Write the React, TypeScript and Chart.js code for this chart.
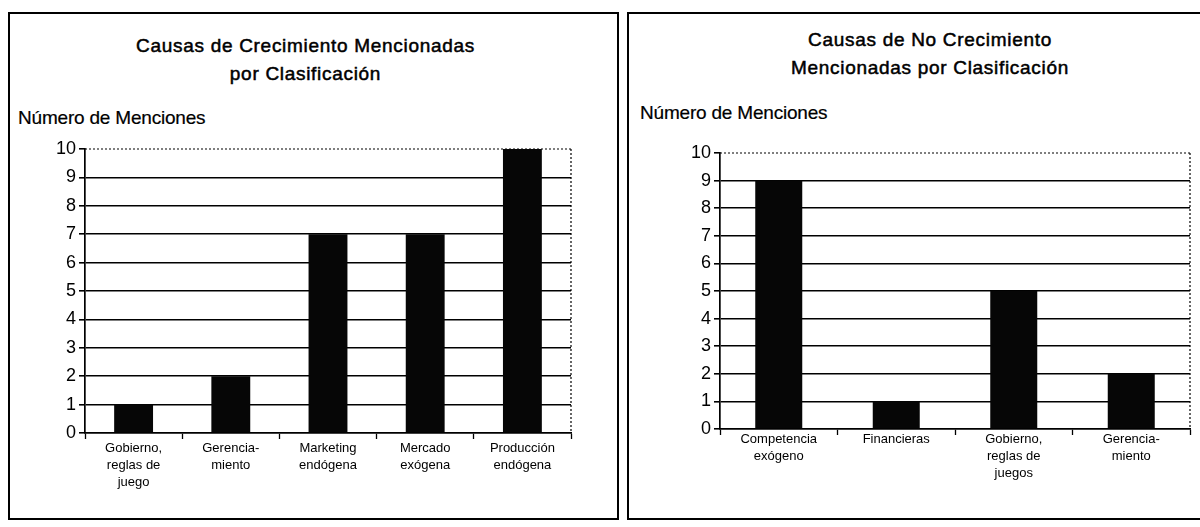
import React, { useEffect, useRef } from "react";
import { Chart, registerables } from "chart.js";

Chart.register(...registerables);

const growthTitle = ["Causas de Crecimiento Mencionadas", "por Clasificación"];
const growthCategories = [
  ["Gobierno,", "reglas de", "juego"],
  ["Gerencia-", "miento"],
  ["Marketing", "endógena"],
  ["Mercado", "exógena"],
  ["Producción", "endógena"],
];
const growthValues = [1, 2, 7, 7, 10];

const noGrowthTitle = ["Causas de No Crecimiento", "Mencionadas por Clasificación"];
const noGrowthCategories = [
  ["Competencia", "exógeno"],
  ["Financieras"],
  ["Gobierno,", "reglas de", "juegos"],
  ["Gerencia-", "miento"],
];
const noGrowthValues = [9, 1, 5, 2];

const yAxisLabel = "Número de Menciones";
const yTickValues = [0, 1, 2, 3, 4, 5, 6, 7, 8, 9, 10];

const FONT = "'Liberation Sans', Arial, Helvetica, sans-serif";

type Area = { left: number; right: number; top: number; bottom: number };

function BarChart(props: {
  labels: string[][];
  values: number[];
  width: number;
  height: number;
  area: Area;
  labelGap: number;
}) {
  const ref = useRef<HTMLCanvasElement>(null);
  useEffect(() => {
    const canvas = ref.current!;
    const { labels, values, width, height, area, labelGap } = props;
    const yMax = yTickValues[yTickValues.length - 1];
    const yMin = yTickValues[0];
    const frame = {
      id: "dottedFrame",
      beforeDatasetsDraw(chart: any) {
        const { ctx, chartArea } = chart;
        const ys = chart.scales.y;
        const top = ys.getPixelForValue(yMax);
        const bottom = ys.getPixelForValue(yMin);
        ctx.save();
        ctx.strokeStyle = "#000";
        ctx.lineWidth = 1.2;
        ctx.setLineDash([2, 2]);
        ctx.beginPath();
        ctx.moveTo(chartArea.left, top);
        ctx.lineTo(chartArea.right, top);
        ctx.moveTo(chartArea.right, top);
        ctx.lineTo(chartArea.right, bottom);
        ctx.stroke();
        ctx.restore();
      },
    };
    const chart = new Chart(canvas, {
      type: "bar",
      data: {
        labels,
        datasets: [
          {
            data: values,
            backgroundColor: "#060606",
            borderWidth: 0,
            categoryPercentage: 1,
            barPercentage: 0.4,
          },
        ],
      },
      options: {
        animation: false,
        responsive: false,
        maintainAspectRatio: false,
        devicePixelRatio: 1,
        layout: {
          padding: { top: area.top, right: width - area.right, bottom: 0, left: 0 },
        },
        plugins: {
          legend: { display: false },
          tooltip: { enabled: false },
          title: { display: false },
        },
        scales: {
          x: {
            grid: {
              offset: true,
              drawOnChartArea: false,
              drawTicks: true,
              tickLength: 6,
              color: "#000",
              tickColor: "#000",
              tickWidth: 1.3,
            },
            border: { color: "#000", width: 1.7 },
            ticks: {
              color: "#000",
              font: { family: FONT, size: 13, lineHeight: 1.3 },
              padding: labelGap,
              maxRotation: 0,
              autoSkip: false,
            },
            afterFit: (s: any) => {
              s.height = height - area.bottom;
            },
          },
          y: {
            min: yMin,
            max: yMax,
            afterBuildTicks: (s: any) => {
              s.ticks = yTickValues.map((v) => ({ value: v }));
            },
            ticks: {
              color: "#000",
              font: { family: FONT, size: 18 },
              padding: 3,
            },
            grid: {
              color: (c: any) =>
                c.tick && (c.tick.value === yMax || c.tick.value === yMin)
                  ? "rgba(0,0,0,0)"
                  : "#000",
              tickColor: "#000",
              lineWidth: 1.6,
              tickLength: 6,
            },
            border: { color: "#000", width: 1.7 },
            afterFit: (s: any) => {
              s.width = area.left;
            },
          },
        },
      },
      plugins: [frame],
    } as any);
    return () => chart.destroy();
  }, []);
  return (
    <canvas
      ref={ref}
      width={props.width}
      height={props.height}
      style={{ width: props.width, height: props.height, display: "block" }}
    />
  );
}

function Panel(props: {
  left: number;
  top: number;
  width: number;
  height: number;
  title: string[];
  titleTop: number;
  titleShift: number;
  labels: string[][];
  values: number[];
  canvasTop: number;
  canvasWidth: number;
  canvasHeight: number;
  area: Area;
  labelGap: number;
  ylabelLeft: number;
  ylabelTop: number;
}) {
  return (
    <div
      style={{
        position: "absolute",
        left: props.left,
        top: props.top,
        width: props.width,
        height: props.height,
        border: "2px solid #000",
        boxSizing: "border-box",
        background: "#fff",
      }}
    >
      <div
        style={{
          position: "absolute",
          left: props.titleShift,
          top: props.titleTop,
          width: "100%",
          textAlign: "center",
          fontFamily: FONT,
          fontSize: 19,
          fontWeight: "normal",
          lineHeight: "28px",
          letterSpacing: "0.7px",
          WebkitTextStroke: "0.5px #000",
          color: "#000",
        }}
      >
        {props.title.map((t, i) => (
          <div key={i}>{t}</div>
        ))}
      </div>
      <div
        style={{
          position: "absolute",
          left: props.ylabelLeft,
          top: props.ylabelTop,
          fontFamily: FONT,
          fontSize: 19,
          lineHeight: "20px",
          letterSpacing: "-0.2px",
          WebkitTextStroke: "0.2px #000",
          color: "#000",
          whiteSpace: "nowrap",
        }}
      >
        {yAxisLabel}
      </div>
      <div style={{ position: "absolute", left: 0, top: props.canvasTop }}>
        <BarChart
          labels={props.labels}
          values={props.values}
          width={props.canvasWidth}
          height={props.canvasHeight}
          area={props.area}
          labelGap={props.labelGap}
        />
      </div>
    </div>
  );
}

export default function App() {
  return (
    <div
      style={{
        position: "absolute",
        left: 0,
        top: 0,
        width: 1200,
        height: 527,
        overflow: "hidden",
        background: "#fff",
      }}
    >
      <Panel
        left={8}
        top={12}
        width={611}
        height={508}
        title={growthTitle}
        titleTop={18}
        titleShift={-8}
        labels={growthCategories}
        values={growthValues}
        canvasTop={110}
        canvasWidth={600}
        canvasHeight={392}
        area={{ left: 75, right: 561, top: 25, bottom: 309 }}
        labelGap={1}
        ylabelLeft={8}
        ylabelTop={94}
      />
      <Panel
        left={627}
        top={12}
        width={606}
        height={508}
        title={noGrowthTitle}
        titleTop={12}
        titleShift={0}
        labels={noGrowthCategories}
        values={noGrowthValues}
        canvasTop={110}
        canvasWidth={600}
        canvasHeight={392}
        area={{ left: 91, right: 561, top: 29, bottom: 305 }}
        labelGap={-4}
        ylabelLeft={11}
        ylabelTop={89}
      />
    </div>
  );
}
